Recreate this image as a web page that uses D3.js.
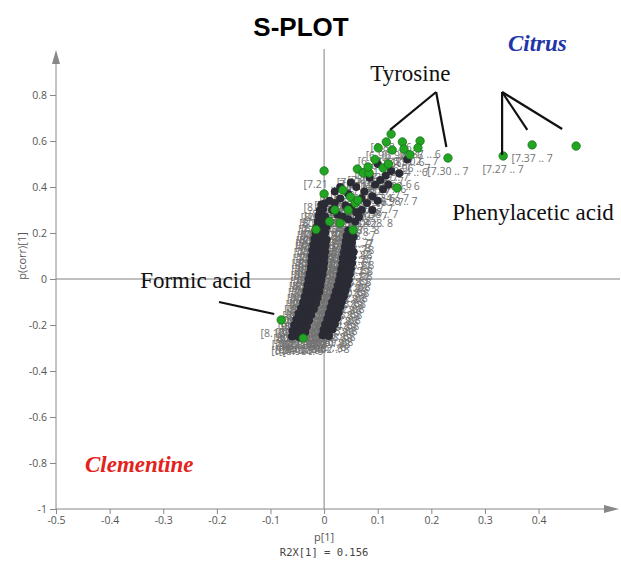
<!DOCTYPE html>
<html>
<head>
<meta charset="utf-8">
<script src="https://cdn.jsdelivr.net/npm/d3@7"></script>
<style>
    body { margin: 0; background: #fff; }
    #splot { width: 621px; height: 561px; }
    .tick text { font-family: "Open Sans", sans-serif; font-size: 10.5px; fill: #555; }
    .tick line { stroke: #888; }
    .axis-title { font-family: "Open Sans", sans-serif; font-size: 11px; fill: #555; }
    .var-label { font-family: "Open Sans", sans-serif; font-size: 10.5px; fill: #727272; }
    .note { font-family: "Liberation Serif", serif; font-size: 23px; fill: #111; }
    .group-name { font-family: "Liberation Serif", serif; font-size: 23px; font-weight: bold; font-style: italic; }
</style>
</head>
<body>
<div id="splot"></div>
<script>
// S-plot loadings: [p[1], p(corr)[1], bin start in ppm]
// marked variables (drawn green)
const markedVars = [
    [0.125, 0.630, 6.88], [0.231, 0.526, 7.30], [0.334, 0.535, 7.27], [0.388, 0.583, 7.37],
    [0.470, 0.578, null], [-0.080, -0.178, 8.12], [-0.039, -0.257, 8.98], [0.000, 0.470, 7.21],
    [0.000, 0.370, 8.85], [0.116, 0.596, 6.90], [0.146, 0.596, 6.92], [0.179, 0.600, 6.87],
    [0.175, 0.570, 7.02], [0.101, 0.570, 6.94], [0.127, 0.561, 7.06], [0.149, 0.565, 6.85],
    [0.062, 0.478, 7.17], [0.073, 0.461, 8.71], [0.084, 0.461, 7.13], [0.082, 0.487, 7.09],
    [0.110, 0.483, 7.24], [0.136, 0.396, 6.98], [0.035, 0.387, 8.83], [0.049, 0.357, 7.52],
    [0.058, 0.330, 7.42], [0.063, 0.343, 7.46], [0.045, 0.300, 8.17], [0.054, 0.213, 7.88],
    [0.030, 0.243, 7.96], [0.160, 0.540, 6.96], [0.095, 0.520, 7.11], [0.120, 0.500, 7.19],
    [0.020, 0.300, 8.21], [-0.015, 0.215, 7.75], [0.010, 0.250, 8.40]
];

// left band of remaining variables
const leftBand = [
    [-0.060, -0.250, 8.94], [-0.053, -0.246, 8.91], [-0.046, -0.253, 7.99], [-0.040, -0.248, 8.03],
    [-0.059, -0.226, 7.98], [-0.052, -0.222, 8.87], [-0.046, -0.229, 8.06], [-0.041, -0.224, 7.95], [-0.035, -0.230, 8.83],
    [-0.056, -0.201, 8.79], [-0.050, -0.197, 8.10], [-0.043, -0.204, 7.91], [-0.038, -0.199, 8.75], [-0.032, -0.205, 8.14],
    [-0.052, -0.176, 8.26], [-0.046, -0.172, 7.87], [-0.040, -0.179, 8.71], [-0.034, -0.174, 8.18], [-0.028, -0.180, 7.83],
    [-0.048, -0.151, 8.67], [-0.042, -0.147, 8.22], [-0.035, -0.154, 7.79], [-0.030, -0.149, 8.63], [-0.024, -0.155, 8.30],
    [-0.043, -0.126, 7.76], [-0.037, -0.122, 8.59], [-0.031, -0.129, 8.34], [-0.025, -0.124, 7.72], [-0.019, -0.130, 8.55],
    [-0.039, -0.101, 8.62], [-0.033, -0.097, 8.38], [-0.027, -0.104, 7.68], [-0.021, -0.099, 8.51], [-0.015, -0.105, 8.42],
    [-0.036, -0.076, 7.64], [-0.030, -0.072, 8.47], [-0.024, -0.079, 8.46], [-0.018, -0.074, 7.60], [-0.012, -0.080, 8.43],
    [-0.033, -0.051, 8.50], [-0.027, -0.047, 7.56], [-0.021, -0.054, 8.39], [-0.015, -0.049, 8.54], [-0.009, -0.055, 7.52],
    [-0.031, -0.026, 8.35], [-0.025, -0.022, 8.58], [-0.019, -0.029, 7.48], [-0.013, -0.024, 8.31], [-0.007, -0.030, 8.66],
    [-0.029, -0.001, 7.93], [-0.023, 0.003, 7.44], [-0.017, -0.004, 8.27], [-0.011, 0.001, 8.70], [-0.005, -0.005, 7.40],
    [-0.027, 0.024, 8.23], [-0.021, 0.028, 8.74], [-0.015, 0.021, 7.36], [-0.009, 0.026, 8.19], [-0.003, 0.020, 8.78],
    [-0.025, 0.049, 7.32], [-0.019, 0.053, 8.15], [-0.013, 0.046, 8.82], [-0.007, 0.051, 7.28], [-0.001, 0.045, 8.11],
    [-0.024, 0.074, 8.04], [-0.018, 0.078, 8.86], [-0.012, 0.071, 7.25], [-0.006, 0.076, 8.07], [0.000, 0.070, 8.90],
    [-0.023, 0.099, 7.22], [-0.017, 0.103, 8.01], [-0.011, 0.096, 8.93], [-0.005, 0.101, 7.18], [0.001, 0.095, 7.97],
    [-0.022, 0.124, 7.13], [-0.016, 0.128, 8.96], [-0.010, 0.121, 7.15], [-0.004, 0.126, 7.89], [0.002, 0.120, 8.99],
    [-0.020, 0.149, 7.11], [-0.014, 0.153, 7.85], [-0.008, 0.146, 7.08], [-0.002, 0.151, 7.81], [0.003, 0.145, 7.05],
    [-0.018, 0.174, 7.44], [-0.012, 0.178, 7.77], [-0.006, 0.171, 7.01], [0.000, 0.176, 7.73], [0.005, 0.170, 6.98],
    [-0.016, 0.199, 7.69], [-0.010, 0.203, 6.95], [-0.004, 0.196, 7.65], [0.002, 0.201, 6.92],
    [-0.014, 0.224, 8.81], [-0.008, 0.228, 7.61], [-0.002, 0.221, 6.89], [0.004, 0.226, 7.57],
    [-0.012, 0.249, 8.84], [-0.006, 0.253, 7.53], [0.000, 0.246, 8.80],
    [-0.010, 0.274, 7.49], [-0.004, 0.278, 8.76], [0.002, 0.271, 7.45],
    [-0.008, 0.299, 8.72], [-0.002, 0.303, 7.41],
    [-0.005, 0.324, 8.68], [0.001, 0.328, 7.37]
];

// right band of remaining variables
const rightBand = [
    [-0.003, -0.245, 7.98], [0.003, -0.241, 8.95], [0.009, -0.248, 8.02],
    [-0.001, -0.221, 8.92], [0.005, -0.217, 8.06], [0.011, -0.224, 8.89], [0.016, -0.219, 8.09],
    [0.002, -0.197, 8.85], [0.008, -0.193, 8.13], [0.014, -0.200, 8.81], [0.020, -0.195, 8.88],
    [0.006, -0.173, 8.17], [0.012, -0.169, 8.77], [0.018, -0.176, 8.21], [0.024, -0.171, 8.73],
    [0.009, -0.149, 8.25], [0.015, -0.145, 8.69], [0.021, -0.152, 8.29], [0.027, -0.147, 8.24],
    [0.012, -0.125, 8.65], [0.018, -0.121, 8.33], [0.024, -0.128, 8.61], [0.030, -0.123, 8.37],
    [0.015, -0.101, 8.57], [0.021, -0.097, 8.41], [0.027, -0.104, 8.53], [0.033, -0.099, 8.45],
    [0.019, -0.077, 8.49], [0.025, -0.073, 8.36], [0.031, -0.080, 8.56], [0.037, -0.075, 8.32],
    [0.022, -0.053, 8.60], [0.028, -0.049, 8.28], [0.034, -0.056, 8.64], [0.040, -0.051, 8.93],
    [0.025, -0.029, 8.20], [0.031, -0.025, 8.68], [0.037, -0.032, 8.16], [0.043, -0.027, 8.72],
    [0.028, -0.005, 8.12], [0.034, -0.001, 8.76], [0.040, -0.008, 8.08], [0.046, -0.003, 8.80],
    [0.030, 0.019, 8.04], [0.036, 0.023, 8.84], [0.042, 0.016, 8.00], [0.048, 0.021, 8.87],
    [0.032, 0.043, 7.96], [0.038, 0.047, 8.91], [0.044, 0.040, 7.92], [0.050, 0.045, 8.35],
    [0.034, 0.067, 7.88], [0.040, 0.071, 8.97], [0.046, 0.064, 7.84], [0.052, 0.069, 8.26],
    [0.035, 0.091, 7.80], [0.041, 0.095, 8.22], [0.047, 0.088, 7.76], [0.053, 0.093, 8.18],
    [0.037, 0.115, 7.72], [0.043, 0.119, 8.14], [0.049, 0.112, 7.68], [0.055, 0.117, 8.66],
    [0.039, 0.139, 7.64], [0.045, 0.143, 8.10], [0.051, 0.136, 7.60],
    [0.040, 0.163, 8.06], [0.046, 0.167, 7.56], [0.052, 0.160, 8.02],
    [0.042, 0.187, 7.52], [0.048, 0.191, 7.98], [0.055, 0.184, 8.27],
    [0.045, 0.211, 7.94], [0.052, 0.207, 7.48]
];

// upper cloud of remaining variables
const upperCloud = [
    [0.010, 0.340, 8.82], [0.020, 0.330, 7.94], [0.030, 0.350, 8.78], [0.040, 0.320, 7.90],
    [0.050, 0.310, 8.74], [0.060, 0.290, 7.86], [0.070, 0.300, 8.70], [0.015, 0.300, 7.82],
    [0.025, 0.280, 8.66], [0.035, 0.270, 7.78], [0.045, 0.260, 8.62], [0.058, 0.250, 7.74],
    [0.065, 0.270, 8.58], [0.080, 0.330, 7.70], [0.090, 0.360, 7.06], [0.075, 0.380, 7.02],
    [0.060, 0.400, 8.54], [0.050, 0.420, 6.98], [0.095, 0.410, 6.94], [0.105, 0.430, 7.14],
    [0.115, 0.450, 6.90], [0.085, 0.440, 7.18], [0.125, 0.470, 6.86], [0.100, 0.500, 7.22],
    [0.140, 0.460, 6.82], [0.110, 0.390, 7.26], [0.070, 0.350, 8.50], [0.045, 0.370, 7.66],
    [0.030, 0.400, 8.46], [0.020, 0.380, 7.62], [0.090, 0.300, 8.42], [0.100, 0.340, 7.58],
    [0.120, 0.410, 7.34], [0.080, 0.470, 7.10], [0.155, 0.520, 6.94]
];

const xMajor = [-0.5, -0.4, -0.3, -0.2, -0.1, 0, 0.1, 0.2, 0.3, 0.4];
const xMinor = [-0.45, -0.35, -0.25, -0.15, -0.05, 0.05, 0.15, 0.25, 0.35, 0.45];
const yMajor = [-1, -0.8, -0.6, -0.4, -0.2, 0, 0.2, 0.4, 0.6, 0.8];
const yMinor = [-0.9, -0.7, -0.5, -0.3, -0.1, 0.1, 0.3, 0.5, 0.7, 0.9];

// compound annotations: text anchor and leader lines, in plot units
const noteNames = ["Tyrosine", "Phenylacetic acid", "Formic acid"];
const noteAnchors = [[0.086, 0.861], [0.239, 0.257], [-0.343, -0.039]];
const noteLeaders = [
    [[0.209, 0.813], [0.123, 0.648]], [[0.209, 0.813], [0.228, 0.574]],
    [[0.332, 0.813], [0.332, 0.539]], [[0.332, 0.813], [0.379, 0.648]], [[0.332, 0.813], [0.444, 0.652]],
    [[-0.196, -0.100], [-0.093, -0.152]]
];

// class names placed in their quadrants
const groupNames = ["Citrus", "Clementine"];
const groupColors = ["#1f35a8", "#e3231b"];
const groupAnchors = [[0.343, 0.991], [-0.446, -0.839]];

class SPlotVis {

    constructor(parentElement) {
        this.parentElement = parentElement;
        this.initVis();
    }

    initVis() {
        let vis = this;

        vis.width = 621;
        vis.height = 561;

        vis.svg = d3.select("#" + vis.parentElement).append("svg")
            .attr("width", vis.width)
            .attr("height", vis.height);

        vis.xScale = d3.scaleLinear().domain([-0.5, 0.55]).range([56, 619]);
        vis.yScale = d3.scaleLinear().domain([-1, 1]).range([509, 49]);

        vis.svg.append("text")
            .attr("x", 301)
            .attr("y", 36)
            .attr("text-anchor", "middle")
            .style("font-family", "'Liberation Sans', Arial, sans-serif")
            .style("font-weight", "bold")
            .style("font-size", "26px")
            .text("S-PLOT");

        vis.drawAxes();
        vis.updateVis();
    }

    drawAxes() {
        let vis = this;
        const x = vis.xScale, y = vis.yScale;
        const fmt = d => String(+d.toFixed(1));

        // zero lines
        vis.svg.append("line")
            .attr("x1", x(0)).attr("x2", x(0))
            .attr("y1", y(1)).attr("y2", y(-1))
            .attr("stroke", "#808080").attr("stroke-width", 1);
        vis.svg.append("line")
            .attr("x1", x(-0.5)).attr("x2", 620)
            .attr("y1", y(0)).attr("y2", y(0))
            .attr("stroke", "#808080").attr("stroke-width", 1);

        // bottom axis
        const xg = vis.svg.append("g").attr("transform", `translate(0,${y(-1)})`);
        xg.call(d3.axisBottom(x).tickValues(xMinor).tickSize(3).tickFormat(""));
        xg.call(d3.axisBottom(x).tickValues(xMajor).tickSize(5).tickPadding(3).tickFormat(fmt));
        xg.selectAll(".domain").remove();

        // left axis
        const yg = vis.svg.append("g").attr("transform", `translate(${x(-0.5)},0)`);
        yg.call(d3.axisLeft(y).tickValues(yMinor).tickSize(4).tickFormat(""));
        yg.call(d3.axisLeft(y).tickValues(yMajor).tickSize(6).tickPadding(3).tickFormat(fmt));
        yg.selectAll(".domain").remove();

        // axis lines with arrow heads
        vis.svg.append("line")
            .attr("x1", x(-0.5)).attr("x2", 606)
            .attr("y1", y(-1)).attr("y2", y(-1))
            .attr("stroke", "#888");
        vis.svg.append("path")
            .attr("d", `M619,${y(-1)} L604,${y(-1) - 4} L604,${y(-1) + 4} Z`)
            .attr("fill", "#888");
        vis.svg.append("line")
            .attr("x1", x(-0.5)).attr("x2", x(-0.5))
            .attr("y1", y(-1)).attr("y2", 62)
            .attr("stroke", "#888");
        vis.svg.append("path")
            .attr("d", `M${x(-0.5)},50 L${x(-0.5) - 4},64 L${x(-0.5) + 4},64 Z`)
            .attr("fill", "#888");

        vis.svg.append("text")
            .attr("class", "axis-title")
            .attr("x", x(0)).attr("y", 541)
            .attr("text-anchor", "middle")
            .text("p[1]");
        vis.svg.append("text")
            .attr("x", x(0)).attr("y", 556)
            .attr("text-anchor", "middle")
            .style("font-family", "'DejaVu Sans Mono', monospace")
            .style("font-size", "10.5px")
            .style("fill", "#444")
            .text("R2X[1] = 0.156");
        vis.svg.append("text")
            .attr("class", "axis-title")
            .attr("transform", "translate(26,256) rotate(-90)")
            .attr("text-anchor", "middle")
            .text("p(corr)[1]");
    }

    updateVis() {
        let vis = this;
        const x = vis.xScale, y = vis.yScale;
        const otherVars = leftBand.concat(rightBand, upperCloud);
        const labelled = otherVars.concat(markedVars).filter(d => d[2] != null);
        const binLabel = d => `[${d[2].toFixed(2)} .. ${Math.floor(d[2] + 0.04)}`;

        // variable labels sit under the points
        vis.svg.append("g").selectAll("text")
            .data(labelled)
            .enter()
            .append("text")
            .attr("class", "var-label")
            .attr("x", d => x(d[0]))
            .attr("y", d => y(d[1]) + 17)
            .attr("text-anchor", "middle")
            .text(binLabel);

        vis.svg.append("g").selectAll("circle")
            .data(otherVars)
            .enter()
            .append("circle")
            .attr("cx", d => x(d[0]))
            .attr("cy", d => y(d[1]))
            .attr("r", 4)
            .attr("fill", "#2a2b34");

        vis.svg.append("g").selectAll("circle")
            .data(markedVars)
            .enter()
            .append("circle")
            .attr("cx", d => x(d[0]))
            .attr("cy", d => y(d[1]))
            .attr("r", 4.2)
            .attr("fill", "#22a523")
            .attr("stroke", "#157515")
            .attr("stroke-width", 0.8);

        // leader lines and compound names
        vis.svg.append("g").selectAll("line")
            .data(noteLeaders)
            .enter()
            .append("line")
            .attr("x1", d => x(d[0][0])).attr("y1", d => y(d[0][1]))
            .attr("x2", d => x(d[1][0])).attr("y2", d => y(d[1][1]))
            .attr("stroke", "#111")
            .attr("stroke-width", 2.2);

        vis.svg.append("g").selectAll("text")
            .data(noteNames)
            .enter()
            .append("text")
            .attr("class", "note")
            .attr("x", (d, i) => x(noteAnchors[i][0]))
            .attr("y", (d, i) => y(noteAnchors[i][1]))
            .text(d => d);

        vis.svg.append("g").selectAll("text")
            .data(groupNames)
            .enter()
            .append("text")
            .attr("class", "group-name")
            .attr("x", (d, i) => x(groupAnchors[i][0]))
            .attr("y", (d, i) => y(groupAnchors[i][1]))
            .attr("fill", (d, i) => groupColors[i])
            .text(d => d);
    }
}

new SPlotVis("splot");
</script>
</body>
</html>
